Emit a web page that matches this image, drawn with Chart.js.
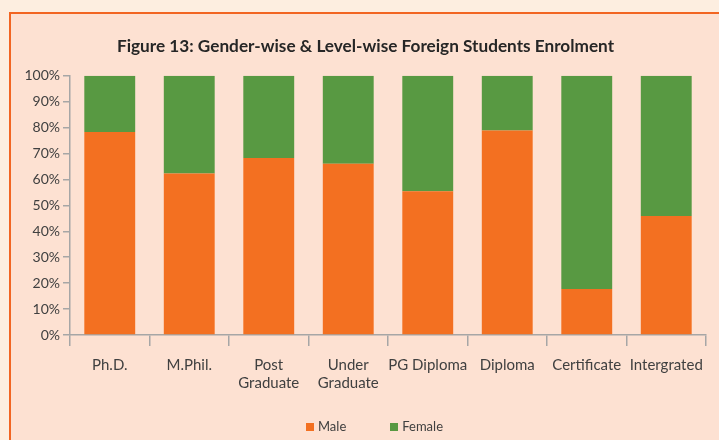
<!DOCTYPE html>
<html>
<head>
<meta charset="utf-8">
<script src="https://cdn.jsdelivr.net/npm/chart.js@4.4.1/dist/chart.umd.min.js"></script>
<style>
html,body{margin:0;padding:0;background:#fdeee0;}
#wrap{position:relative;width:719px;height:440px;}
#legend{position:absolute;left:15px;top:418px;width:719px;text-align:center;font:13px "Lato",sans-serif;color:#404040;}
#legend span{display:inline-block;margin:0 22px;}
#legend i{display:inline-block;width:8px;height:8px;margin-right:4px;vertical-align:0px;}
</style>
</head>
<body>
<div id="wrap">
<canvas id="chart" width="719" height="440"></canvas>
<div id="legend"></div>
</div>
<script>
const categories = ["Ph.D.", "M.Phil.", ["Post", "Graduate"], ["Under", "Graduate"], "PG Diploma", "Diploma", "Certificate", "Intergrated"];
const maleShare = [78.3, 62.3, 68.2, 66.0, 55.4, 78.8, 17.7, 45.9];
const femaleShare = [21.7, 37.7, 31.8, 34.0, 44.6, 21.2, 82.3, 54.1];
const yTicks = [0, 10, 20, 30, 40, 50, 60, 70, 80, 90, 100];

const maleColor = "#f37021";
const femaleColor = "#589942";
const fontFamily = '"Lato", sans-serif';

// panel background with orange frame
const panel = {
id: "panel",
afterLayout(chart){
// title sits centred over the framed panel, not the plot
chart.titleBlock.left += 25;
},
beforeDraw(chart){
const c = chart.ctx;
c.save();
c.fillStyle = "#fdeee0";
c.fillRect(0, 0, chart.width, chart.height);
c.fillStyle = "#fde1d2";
c.fillRect(9, 12, chart.width, chart.height);
c.strokeStyle = "#f26522";
c.lineWidth = 2;
c.beginPath();
c.moveTo(10, chart.height);
c.lineTo(10, 13);
c.lineTo(chart.width, 13);
c.stroke();
c.restore();
}
};

const chart = new Chart(document.getElementById("chart"), {
type: "bar",
data: {
labels: categories,
datasets: [
{label: "Male", data: maleShare, backgroundColor: maleColor, barPercentage: 0.64, categoryPercentage: 1},
{label: "Female", data: femaleShare, backgroundColor: femaleColor, barPercentage: 0.64, categoryPercentage: 1}
]
},
options: {
responsive: false,
animation: false,
layout: {padding: {left: 0, right: 13, top: 0, bottom: 30}},
plugins: {
legend: {display: false},
tooltip: {enabled: false},
title: {
display: true,
text: "Figure 13: Gender-wise & Level-wise Foreign Students Enrolment",
color: "#262626",
font: {family: fontFamily, size: 17.2, weight: "bold"},
padding: {top: 36, bottom: 19}
}
},
scales: {
x: {
stacked: true,
grid: {offset: true, drawOnChartArea: false, color: "#a6a6a6", lineWidth: 1.5, tickLength: 11},
border: {color: "#a6a6a6", width: 1.5},
ticks: {color: "#404040", font: {family: fontFamily, size: 15}, padding: 10, maxRotation: 0, autoSkip: false},
afterFit(scale){ scale.height = 75; }
},
y: {
stacked: true,
min: 0,
max: 100,
afterBuildTicks(scale){ scale.ticks = yTicks.map(v => ({value: v})); },
grid: {drawOnChartArea: false, color: "#a6a6a6", lineWidth: 1.5, tickLength: 7},
border: {color: "#a6a6a6", width: 1.5},
ticks: {color: "#404040", font: {family: fontFamily, size: 14}, padding: 3, callback: v => v + "%"},
afterFit(scale){ scale.width = 70; }
}
}
},
plugins: [panel]
});

const legendBox = document.getElementById("legend");
chart.data.datasets.forEach(ds => {
const item = document.createElement("span");
const swatch = document.createElement("i");
swatch.style.background = ds.backgroundColor;
item.appendChild(swatch);
item.appendChild(document.createTextNode(ds.label));
legendBox.appendChild(item);
});
</script>
</body>
</html>
